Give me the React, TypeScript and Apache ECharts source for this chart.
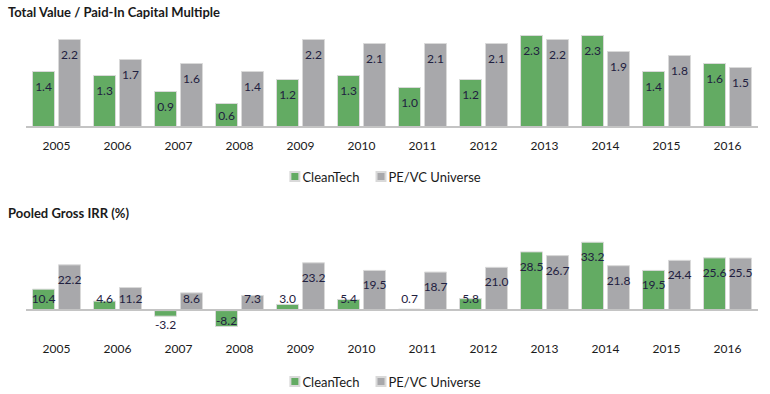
import React, { useEffect, useRef } from "react";
import * as echarts from "echarts";

const years = ["2005", "2006", "2007", "2008", "2009", "2010", "2011", "2012", "2013", "2014", "2015", "2016"];
const tvpiCleanTech = [1.4, 1.3, 0.9, 0.6, 1.2, 1.3, 1.0, 1.2, 2.3, 2.3, 1.4, 1.6];
const tvpiPEVC = [2.2, 1.7, 1.6, 1.4, 2.2, 2.1, 2.1, 2.1, 2.2, 1.9, 1.8, 1.5];
const irrCleanTech = [10.4, 4.6, -3.2, -8.2, 3.0, 5.4, 0.7, 5.8, 28.5, 33.2, 19.5, 25.6];
const irrPEVC = [22.2, 11.2, 8.6, 7.3, 23.2, 19.5, 18.7, 21.0, 26.7, 21.8, 24.4, 25.5];
const seriesNames = ["CleanTech", "PE/VC Universe"];
const titles = ["Total Value / Paid-In Capital Multiple", "Pooled Gross IRR (%)"];

const GREEN = "#63ab63";
const GRAY = "#a8a8ab";
const LABEL = "#1f2040";
const FONT = "Lato, 'Noto Sans', sans-serif";

function labelFor(v: number, smallLimit: number) {
  const base = { show: true, color: LABEL, fontSize: 12, fontFamily: FONT, formatter: (p: any) => Number(p.value).toFixed(1) };
  if (v < 0) {
    if (Math.abs(v) < smallLimit * 0.4) return { ...base, position: "bottom", distance: 2 };
    return { ...base, position: "insideBottom", distance: 0 };
  }
  if (v < smallLimit) return { ...base, position: "insideBottom", distance: 6 };
  return { ...base, position: "insideTop", distance: 9 };
}

function mkData(values: number[], smallLimit: number) {
  return values.map((v) => ({ value: v, label: labelFor(v, smallLimit) }));
}

export default function App() {
  const ref = useRef<HTMLDivElement>(null);
  useEffect(() => {
    if (!ref.current) return;
    const chart = echarts.init(ref.current, null, { renderer: "svg" });
    const xAxisCommon = {
      type: "category",
      data: years,
      axisTick: { show: false },
      axisLine: { show: false },
      axisLabel: { color: "#1a1a1a", fontSize: 12, fontFamily: FONT, margin: 12 },
    };
    const yAxisCommon = {
      type: "value",
      show: false,
      splitLine: { show: false },
    };
    const zeroLine = {
      silent: true,
      symbol: "none",
      label: { show: false },
      lineStyle: { color: "#c4c4c4", width: 2, type: "solid" },
      data: [{ yAxis: 0 }],
    };
    const barCommon = {
      type: "bar",
      barWidth: 23,
      barGap: "13%",
      itemStyle: { borderColor: "#d9d9d9", borderWidth: 1 },
    };
    const legendCommon = {
      data: seriesNames,
      left: "center",
      icon: "rect",
      itemWidth: 9,
      itemHeight: 9,
      itemGap: 16,
      textStyle: { fontSize: 13, color: "#1a1a1a", fontFamily: FONT, padding: [0, 0, 0, -2] },
      selectedMode: false,
    };
    chart.setOption({
      animation: false,
      title: [
        { text: titles[0], left: 8, top: 5, padding: 0, textStyle: { fontSize: 13, fontWeight: "bold", color: "#1a1a1a", fontFamily: FONT } },
        { text: titles[1], left: 8, top: 206, padding: 0, textStyle: { fontSize: 13, fontWeight: "bold", color: "#1a1a1a", fontFamily: FONT } },
      ],
      legend: [
        { ...legendCommon, top: 165 },
        { ...legendCommon, top: 370 },
      ],
      grid: [
        { left: 26, width: 732, top: 27, height: 100 },
        { left: 26, width: 732, top: 238, height: 92.7 },
      ],
      xAxis: [
        { ...xAxisCommon, gridIndex: 0 },
        { ...xAxisCommon, gridIndex: 1, axisLabel: { ...xAxisCommon.axisLabel, margin: 12 } },
      ],
      yAxis: [
        { ...yAxisCommon, gridIndex: 0, min: 0, max: 2.5 },
        { ...yAxisCommon, gridIndex: 1, min: -10, max: 35 },
      ],
      series: [
        { ...barCommon, name: seriesNames[0], xAxisIndex: 0, yAxisIndex: 0, itemStyle: { ...barCommon.itemStyle, color: GREEN }, data: mkData(tvpiCleanTech, 0.75), markLine: zeroLine },
        { ...barCommon, name: seriesNames[1], xAxisIndex: 0, yAxisIndex: 0, itemStyle: { ...barCommon.itemStyle, color: GRAY }, data: mkData(tvpiPEVC, 0.75) },
        { ...barCommon, name: seriesNames[0], xAxisIndex: 1, yAxisIndex: 1, itemStyle: { ...barCommon.itemStyle, color: GREEN }, data: mkData(irrCleanTech, 14), markLine: zeroLine },
        { ...barCommon, name: seriesNames[1], xAxisIndex: 1, yAxisIndex: 1, itemStyle: { ...barCommon.itemStyle, color: GRAY }, data: mkData(irrPEVC, 14) },
      ],
    });
    return () => chart.dispose();
  }, []);
  return (
    <div
      ref={ref}
      style={{ position: "fixed", left: 0, top: 0, width: 770, height: 394, background: "#fff" }}
    />
  );
}
